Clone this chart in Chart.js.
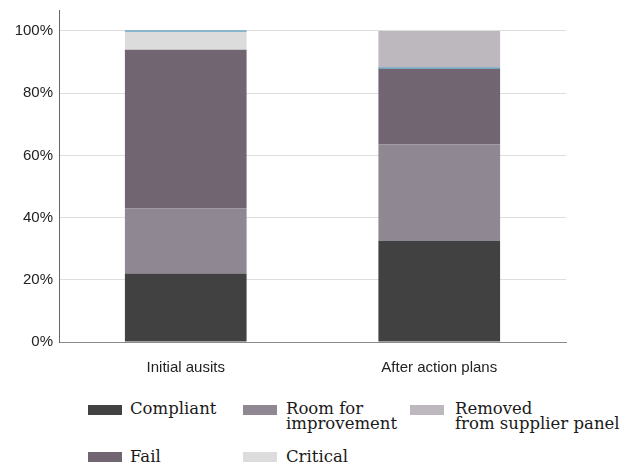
<!DOCTYPE html>
<html>
<head>
<meta charset="utf-8">
<script src="https://cdn.jsdelivr.net/npm/chart.js@4"></script>
<style>
  html, body { margin: 0; padding: 0; background: #fff; }
  #wrap { position: relative; width: 626px; height: 465px; overflow: hidden; }
  #chart { position: absolute; left: 0; top: 0; }
  .sw { position: absolute; width: 34px; height: 10px; }
  .lb { position: absolute; font-family: "DejaVu Serif", serif; font-size: 16.5px; line-height: 15px; color: #1a1a1a; white-space: nowrap; }
</style>
</head>
<body>
<div id="wrap">
  <canvas id="chart" width="626" height="395"></canvas>
  <div id="legend"></div>
</div>
<script>
// Audit outcomes, share of suppliers (%)
const categories = ['Initial ausits', 'After action plans'];
const compliant = [22, 32.5];
const roomForImprovement = [21, 31];
const fail = [51, 24.5];
const critical = [6, 0];
const removed = [0, 12];
const yTickValues = [0, 20, 40, 60, 80, 100];

const colors = {
  compliant: '#414141',
  room: '#8f8792',
  fail: '#716572',
  critical: '#dcdcdd',
  removed: '#bdb8bd',
  marker: '#6fa9c6'
};

// Thin rule at the top of each "Critical" segment
const criticalRule = {
  id: 'criticalRule',
  afterDatasetsDraw(chart) {
    const idx = chart.data.datasets.findIndex(d => d.label === 'Critical');
    const meta = chart.getDatasetMeta(idx);
    const ctx = chart.ctx;
    ctx.save();
    ctx.strokeStyle = colors.marker;
    ctx.lineWidth = 1.5;
    meta.data.forEach(el => {
      const p = el.getProps(['x', 'y', 'width'], true);
      ctx.beginPath();
      ctx.moveTo(p.x - p.width / 2, p.y);
      ctx.lineTo(p.x + p.width / 2, p.y);
      ctx.stroke();
    });
    ctx.restore();
  }
};

new Chart(document.getElementById('chart'), {
  type: 'bar',
  data: {
    labels: categories,
    datasets: [
      { label: 'Compliant', data: compliant, backgroundColor: colors.compliant },
      { label: 'Room for improvement', data: roomForImprovement, backgroundColor: colors.room },
      { label: 'Fail', data: fail, backgroundColor: colors.fail },
      { label: 'Critical', data: critical, backgroundColor: colors.critical },
      { label: 'Removed from supplier panel', data: removed, backgroundColor: colors.removed }
    ]
  },
  options: {
    responsive: false,
    animation: false,
    events: [],
    layout: { padding: { top: 10, right: 60, left: 0, bottom: 0 } },
    datasets: { bar: { categoryPercentage: 1, barPercentage: 0.48, borderWidth: 0 } },
    plugins: { legend: { display: false }, tooltip: { enabled: false } },
    scales: {
      x: {
        stacked: true,
        grid: { display: false, drawTicks: false },
        border: { display: true, color: '#8a8a8a', width: 1 },
        ticks: { padding: 17, color: '#222', font: { family: 'Liberation Sans', size: 15 } },
        afterFit(scale) { scale.height = 53; }
      },
      y: {
        stacked: true,
        min: 0,
        max: 106.75,
        afterBuildTicks(scale) { scale.ticks = yTickValues.map(v => ({ value: v })); },
        grid: { color: '#dedede', lineWidth: 1, drawTicks: false },
        border: { display: true, color: '#666', width: 1 },
        ticks: {
          padding: 6,
          color: '#222',
          font: { family: 'Liberation Sans', size: 15 },
          callback: v => v + '%'
        },
        afterFit(scale) {
          scale.width = 59;
          scale.paddingTop = 0;
          scale.paddingBottom = 0;
        }
      }
    }
  },
  plugins: [criticalRule]
});

// Legend
const legendItems = [
  { text: 'Compliant', color: colors.compliant, sx: 88, tx: 130, row: 0 },
  { text: 'Room for<br>improvement', color: colors.room, sx: 243, tx: 286, row: 0 },
  { text: 'Removed<br>from supplier panel', color: colors.removed, sx: 410, tx: 455, row: 0 },
  { text: 'Fail', color: colors.fail, sx: 88, tx: 130, row: 1 },
  { text: 'Critical', color: colors.critical, sx: 243, tx: 286, row: 1 }
];
const rows = [{ sy: 405, ty: 401 }, { sy: 452, ty: 449 }];
const legend = document.getElementById('legend');
legendItems.forEach(it => {
  const r = rows[it.row];
  const sw = document.createElement('div');
  sw.className = 'sw';
  sw.style.left = it.sx + 'px';
  sw.style.top = r.sy + 'px';
  sw.style.background = it.color;
  legend.appendChild(sw);
  const lb = document.createElement('div');
  lb.className = 'lb';
  lb.style.left = it.tx + 'px';
  lb.style.top = r.ty + 'px';
  lb.innerHTML = it.text;
  legend.appendChild(lb);
});
</script>
</body>
</html>
